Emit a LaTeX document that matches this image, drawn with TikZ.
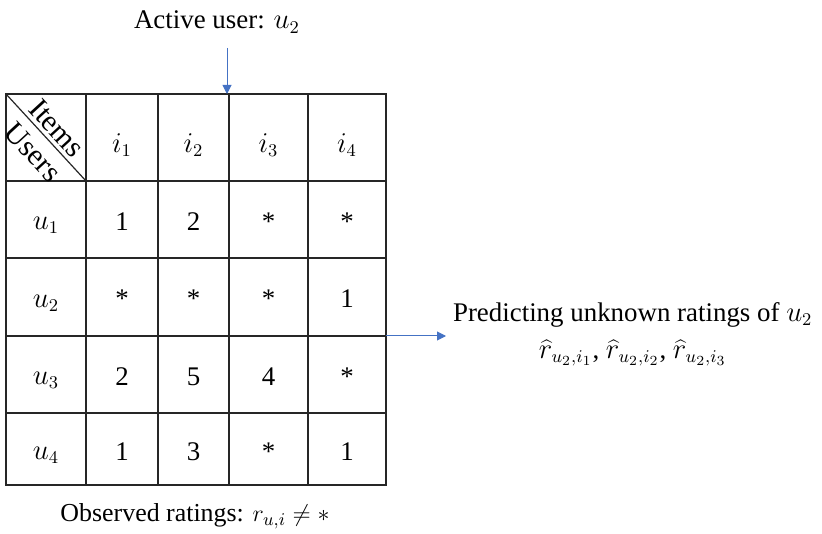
\documentclass[tikz,border=0pt]{standalone}
\usepackage{fontspec}
\setmainfont{Liberation Serif}
\usetikzlibrary{arrows.meta, positioning}
\definecolor{cblue}{HTML}{4472C4}
\definecolor{cgrid}{HTML}{262626}
\tikzset{
  every picture/.style={x=0.5bp, y=-0.5bp, font=\fontsize{13.5}{18.5}\selectfont},
  cell/.style={inner sep=0pt, anchor=center},
  gridline/.style={draw=cgrid, line width=0.6pt},
  arrow/.style={-{Triangle[length=4.5bp, width=4.5bp]}, draw=cblue, line width=0.5pt},
  caption/.style={align=center},
  corner/.style={rotate=-47.4, inner sep=0pt, font=\fontsize{15}{18}\selectfont},
}

\begin{document}
\begin{tikzpicture}
  \useasboundingbox (0,0) rectangle (822,534);
  % rating matrix
  \draw[gridline] (6,94) rectangle (386,485);
  \foreach \x in {86,158,229,308}
    \draw[gridline] (\x,94) -- (\x,485);
  \foreach \y in {181,258,336,413}
    \draw[gridline] (6,\y) -- (386,\y);
  \draw[gridline] (6,94) -- (86,181);
  \node[corner] (items) at (57,128) {Items};
  \node[corner] (users) at (33,152) {Users};
  % headers
  \foreach \c/\x in {1/122, 2/193.5, 3/268.5, 4/347}
    \node[cell] (hdr-\c) at (\x,145) {$i_{\c}$};
  \foreach \r/\y in {1/225, 2/303, 3/380, 4/455}
    \node[cell] (usr-\r) at (46,\y) {$u_{\r}$};
  % ratings
  \foreach \r/\y/\row in {1/222/{1,2,*,*}, 2/299/{*,*,*,1}, 3/377/{2,5,4,*}, 4/452/{1,3,*,1}}
    \foreach \v [count=\c] in \row {
      \pgfmathsetmacro\xc{{122,193.5,268.5,347}[\c-1]}
      \node[cell] (val-\r-\c) at (\xc,\y) {\v};
    }
  % labels and arrows
  \node[caption] (active) at (217,22) {Active user: $u_2$};
  \coordinate (act-tail) at (227,48);
  \coordinate (act-tip) at (227,94);
  \draw[arrow] (act-tail) -- (act-tip);
  \coordinate (grid-exit) at (386,336);
  \node[caption, anchor=west] (predict) at (446,334)
    {Predicting unknown ratings of $u_2$\\ $\widehat{r}_{u_2,i_1}$,\ $\widehat{r}_{u_2,i_2}$,\ $\widehat{r}_{u_2,i_3}$};
  \draw[arrow] (grid-exit) -- (grid-exit -| predict.west);
  \node[caption, font=\fontsize{13}{16}\selectfont] (observed) at (195,516) {Observed ratings: $r_{u,i} \neq *$};
\end{tikzpicture}
\end{document}
